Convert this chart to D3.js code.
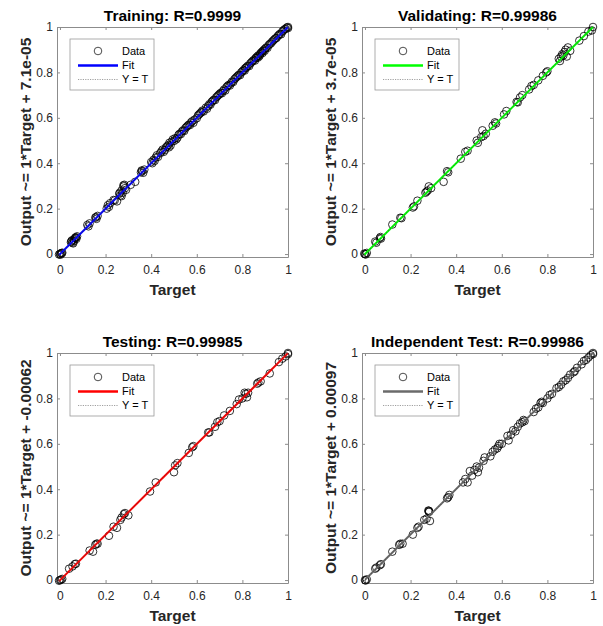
<!DOCTYPE html>
<html>
<head>
<meta charset="utf-8">
<script src="https://cdn.jsdelivr.net/npm/d3@7"></script>
<style>
  body { margin: 0; background: #fff; }
  text { font-family: "Liberation Sans", Arial, Helvetica, sans-serif; }
</style>
</head>
<body>
<svg id="grafica"></svg>
<script>
// Titulos, etiquetas y colores de cada panel
const titulos = ["Training: R=0.9999", "Validating: R=0.99986", "Testing: R=0.99985", "Independent Test: R=0.99986"];
const etiquetasY = [
    "Output ~= 1*Target + 7.1e-05",
    "Output ~= 1*Target + 3.7e-05",
    "Output ~= 1*Target + -0.00062",
    "Output ~= 1*Target + 0.00097"
];
const pendientes = [1, 1, 1, 1];
const interceptos = [7.1e-5, 3.7e-5, -0.00062, 0.00097];
const coloresFit = ["#0000ff", "#00ff00", "#ff0000", "#6b6b6b"];
const ticks = [0, 0.2, 0.4, 0.6, 0.8, 1];

// Datos [target, output]
const datosTraining = [
    [0, 0.001], [0.002, -0.003], [0.005, 0.004], [0.01, 0.006], [-0.004, -0.002], [0.008, 0.003],
    [0.048, 0.052], [0.052, 0.06], [0.055, 0.05], [0.06, 0.064], [0.062, 0.058], [0.066, 0.07], [0.07, 0.074],
    [0.072, 0.067], [0.075, 0.078], [0.058, 0.047], [0.05, 0.056], [0.068, 0.072],
    [0.12, 0.128], [0.125, 0.122], [0.13, 0.135], [0.155, 0.16], [0.16, 0.155], [0.165, 0.168], [0.158, 0.163],
    [0.205, 0.2], [0.21, 0.215], [0.215, 0.208], [0.22, 0.224], [0.235, 0.238], [0.24, 0.236], [0.25, 0.232],
    [0.26, 0.265], [0.265, 0.258], [0.27, 0.28], [0.275, 0.27], [0.28, 0.298], [0.282, 0.305], [0.285, 0.29],
    [0.29, 0.283], [0.27, 0.255], [0.31, 0.305], [0.33, 0.318], [0.278, 0.302], [0.262, 0.27],
    [0.355, 0.36], [0.36, 0.365], [0.365, 0.358], [0.37, 0.372], [0.358, 0.368],
    [0.4, 0.405], [0.41, 0.415], [0.415, 0.41], [0.42, 0.425], [0.43, 0.428], [0.44, 0.445], [0.445, 0.452],
    [0.45, 0.46], [0.46, 0.458], [0.465, 0.47], [0.47, 0.475], [0.475, 0.48], [0.48, 0.49], [0.485, 0.478],
    [0.49, 0.495], [0.5, 0.498], [0.505, 0.51], [0.51, 0.505], [0.52, 0.525], [0.525, 0.53], [0.53, 0.528],
    [0.54, 0.545], [0.545, 0.542], [0.55, 0.555], [0.56, 0.565], [0.565, 0.57], [0.57, 0.568], [0.58, 0.585],
    [0.59, 0.592], [0.6, 0.598], [0.61, 0.615], [0.615, 0.62], [0.62, 0.625], [0.63, 0.628], [0.64, 0.645],
    [0.65, 0.652], [0.66, 0.658], [0.665, 0.67], [0.67, 0.675], [0.68, 0.678], [0.69, 0.695], [0.7, 0.705],
    [0.71, 0.708], [0.72, 0.725], [0.725, 0.72], [0.73, 0.735], [0.74, 0.745], [0.75, 0.752], [0.76, 0.758],
    [0.77, 0.775], [0.775, 0.78], [0.78, 0.785], [0.79, 0.788], [0.8, 0.805], [0.805, 0.81], [0.81, 0.808],
    [0.815, 0.82], [0.82, 0.825], [0.83, 0.828], [0.835, 0.84], [0.84, 0.845], [0.85, 0.855], [0.855, 0.852],
    [0.86, 0.865], [0.865, 0.87], [0.87, 0.875], [0.875, 0.872], [0.88, 0.885], [0.885, 0.89], [0.89, 0.895],
    [0.895, 0.9], [0.9, 0.905], [0.91, 0.908], [0.92, 0.925], [0.93, 0.935], [0.94, 0.945], [0.95, 0.952],
    [0.96, 0.965], [0.97, 0.968], [0.98, 0.985], [0.99, 0.992], [1, 1], [0.995, 0.998], [1, 0.995],
    [0.405, 0.4], [0.425, 0.435], [0.455, 0.45], [0.478, 0.47], [0.495, 0.505], [0.515, 0.512], [0.535, 0.54],
    [0.555, 0.56], [0.575, 0.58], [0.585, 0.578], [0.605, 0.61], [0.625, 0.632], [0.645, 0.64], [0.655, 0.66],
    [0.675, 0.68], [0.685, 0.69], [0.695, 0.7], [0.705, 0.71], [0.715, 0.718], [0.735, 0.74], [0.745, 0.742],
    [0.755, 0.76], [0.765, 0.77], [0.785, 0.79], [0.795, 0.8], [0.812, 0.818], [0.825, 0.83], [0.845, 0.85],
    [0.858, 0.862], [0.868, 0.865], [0.878, 0.88], [0.888, 0.885], [0.898, 0.895], [0.905, 0.91], [0.915, 0.92],
    [0.925, 0.928], [0.935, 0.94], [0.945, 0.95], [0.955, 0.96], [0.965, 0.97], [0.975, 0.98], [0.985, 0.99]
];
const datosValidating = [
    [0, 0], [0.003, -0.002], [0.008, 0.005], [-0.003, 0.002],
    [0.045, 0.055], [0.05, 0.05], [0.065, 0.07], [0.07, 0.068], [0.068, 0.075],
    [0.12, 0.13], [0.155, 0.16], [0.16, 0.158],
    [0.21, 0.205], [0.215, 0.21], [0.23, 0.235],
    [0.265, 0.27], [0.27, 0.275], [0.275, 0.28], [0.28, 0.298], [0.29, 0.29], [0.345, 0.318],
    [0.36, 0.365], [0.365, 0.36],
    [0.42, 0.42], [0.44, 0.45], [0.45, 0.455],
    [0.49, 0.5], [0.495, 0.49], [0.51, 0.515], [0.515, 0.545], [0.52, 0.52], [0.53, 0.53],
    [0.56, 0.565], [0.57, 0.58], [0.575, 0.575],
    [0.61, 0.615], [0.62, 0.63], [0.665, 0.67], [0.67, 0.668], [0.68, 0.69], [0.69, 0.7],
    [0.72, 0.725], [0.73, 0.74], [0.74, 0.745], [0.76, 0.765], [0.78, 0.785], [0.795, 0.8], [0.8, 0.805],
    [0.85, 0.86], [0.855, 0.85], [0.86, 0.87], [0.865, 0.88], [0.87, 0.875], [0.875, 0.89], [0.88, 0.9],
    [0.89, 0.91], [0.9, 0.895], [0.885, 0.87],
    [0.94, 0.94], [0.96, 0.96], [0.98, 0.98], [1, 1], [0.995, 0.985]
];
const datosTesting = [
    [0, 0], [0.005, 0.002], [0.01, 0.005], [-0.004, -0.003],
    [0.04, 0.05], [0.055, 0.06], [0.065, 0.07], [0.07, 0.072],
    [0.13, 0.13], [0.145, 0.125], [0.155, 0.155], [0.16, 0.16], [0.165, 0.16],
    [0.215, 0.195], [0.235, 0.235], [0.25, 0.23], [0.265, 0.265], [0.27, 0.275], [0.28, 0.29], [0.285, 0.295], [0.3, 0.285],
    [0.395, 0.39], [0.42, 0.43],
    [0.5, 0.475], [0.505, 0.505], [0.515, 0.515],
    [0.565, 0.56], [0.58, 0.585], [0.585, 0.59],
    [0.65, 0.65], [0.655, 0.65], [0.68, 0.675], [0.69, 0.695], [0.7, 0.7], [0.72, 0.725], [0.745, 0.745],
    [0.775, 0.775], [0.785, 0.795], [0.8, 0.8], [0.81, 0.825], [0.815, 0.82], [0.82, 0.805], [0.825, 0.825],
    [0.865, 0.865], [0.87, 0.87], [0.88, 0.875], [0.92, 0.91], [0.96, 0.96], [0.975, 0.975], [0.99, 0.985],
    [1, 1], [1, 0.995]
];
const datosIndependiente = [
    [0, 0], [0.003, -0.002], [0.008, 0.003],
    [0.045, 0.05], [0.05, 0.055], [0.065, 0.065], [0.07, 0.07],
    [0.12, 0.125], [0.15, 0.155], [0.155, 0.16], [0.165, 0.16],
    [0.21, 0.2], [0.23, 0.23], [0.235, 0.235], [0.26, 0.265], [0.27, 0.27], [0.28, 0.3], [0.28, 0.305], [0.285, 0.26],
    [0.282, 0.302], [0.278, 0.306],
    [0.36, 0.36], [0.365, 0.365], [0.37, 0.375],
    [0.43, 0.43], [0.44, 0.445], [0.45, 0.43], [0.46, 0.48], [0.47, 0.46], [0.48, 0.485], [0.49, 0.5],
    [0.495, 0.475], [0.5, 0.495], [0.52, 0.525], [0.525, 0.54], [0.55, 0.545], [0.56, 0.565], [0.57, 0.575],
    [0.58, 0.58], [0.585, 0.59], [0.59, 0.6], [0.6, 0.6],
    [0.625, 0.635], [0.63, 0.615], [0.64, 0.64], [0.65, 0.66], [0.66, 0.655], [0.67, 0.675], [0.68, 0.69],
    [0.69, 0.695], [0.695, 0.705], [0.7, 0.7],
    [0.74, 0.74], [0.75, 0.755], [0.76, 0.76], [0.77, 0.78], [0.775, 0.785], [0.78, 0.78], [0.8, 0.8],
    [0.81, 0.815], [0.82, 0.82], [0.84, 0.845], [0.85, 0.85], [0.86, 0.86], [0.87, 0.875], [0.88, 0.88],
    [0.89, 0.89], [0.9, 0.905], [0.915, 0.915], [0.92, 0.92], [0.93, 0.935], [0.95, 0.95], [0.96, 0.965],
    [0.97, 0.97], [0.98, 0.98], [0.99, 0.99], [1, 1], [1, 0.995]
];
const conjuntos = [datosTraining, datosValidating, datosTesting, datosIndependiente];

/**
 * Dibuja un panel de regresion estilo MATLAB
 */
function graficarPanel(svg, izquierda, arriba, i) {
    const ancho = 231, alto = 230;
    const datos = conjuntos[i];

    const x = d3.scaleLinear().domain([-0.013, 1]).range([izquierda, izquierda + ancho]);
    const y = d3.scaleLinear().domain([-0.013, 1]).range([arriba + alto, arriba]);

    const g = svg.append("g");

    // ejes con ticks hacia adentro (caja completa)
    const colorEje = "#8c8c8c";
    const ejeAbajo = g.append("g").attr("transform", `translate(0,${arriba + alto})`)
        .call(d3.axisBottom(x).tickValues(ticks).tickSizeInner(-3).tickSizeOuter(0).tickFormat(d3.format("~g")));
    const ejeArriba = g.append("g").attr("transform", `translate(0,${arriba})`)
        .call(d3.axisTop(x).tickValues(ticks).tickSizeInner(-3).tickSizeOuter(0).tickFormat(""));
    const ejeIzq = g.append("g").attr("transform", `translate(${izquierda},0)`)
        .call(d3.axisLeft(y).tickValues(ticks).tickSizeInner(-3).tickSizeOuter(0).tickFormat(d3.format("~g")));
    const ejeDer = g.append("g").attr("transform", `translate(${izquierda + ancho},0)`)
        .call(d3.axisRight(y).tickValues(ticks).tickSizeInner(-3).tickSizeOuter(0).tickFormat(""));

    [ejeAbajo, ejeArriba, ejeIzq, ejeDer].forEach(e => {
        e.select(".domain").attr("stroke", colorEje);
        e.selectAll(".tick line").attr("stroke", colorEje);
        e.selectAll("text").attr("fill", "#262626").attr("font-size", 12)
            .attr("font-family", "Liberation Sans, Arial, sans-serif");
    });
    ejeAbajo.selectAll("text").attr("dy", null).attr("y", 17);
    ejeIzq.selectAll("text").attr("x", -4);

    // circulos de datos
    g.append("g")
        .selectAll("circle")
        .data(datos)
        .join("circle")
        .attr("cx", d => x(d[0]))
        .attr("cy", d => y(d[1]))
        .attr("r", 3.8)
        .attr("fill", "none")
        .attr("stroke", "#000")
        .attr("stroke-width", 0.8);

    // recta de ajuste
    const tMin = d3.min(datos, d => d[0]), tMax = d3.max(datos, d => d[0]);
    g.append("line")
        .attr("x1", x(tMin)).attr("y1", y(pendientes[i] * tMin + interceptos[i]))
        .attr("x2", x(tMax)).attr("y2", y(pendientes[i] * tMax + interceptos[i]))
        .attr("stroke", coloresFit[i])
        .attr("stroke-width", 2);

    // Y = T punteada
    g.append("line")
        .attr("x1", x(tMin)).attr("y1", y(tMin))
        .attr("x2", x(tMax)).attr("y2", y(tMax))
        .attr("stroke", "#444")
        .attr("stroke-width", 0.7)
        .attr("stroke-dasharray", "1.2,1.6");

    // titulo
    g.append("text")
        .attr("x", izquierda + ancho / 2)
        .attr("y", arriba - 6)
        .attr("text-anchor", "middle")
        .attr("font-weight", "bold")
        .attr("font-size", 15.5)
        .attr("fill", "#000")
        .text(titulos[i]);

    // etiqueta X
    g.append("text")
        .attr("x", izquierda + ancho / 2)
        .attr("y", arriba + alto + 38)
        .attr("text-anchor", "middle")
        .attr("font-weight", "bold")
        .attr("font-size", 15.5)
        .attr("fill", "#262626")
        .text("Target");

    // etiqueta Y
    g.append("text")
        .attr("transform", `translate(${izquierda - 26},${arriba + alto / 2}) rotate(-90)`)
        .attr("text-anchor", "middle")
        .attr("font-weight", "bold")
        .attr("font-size", 15.5)
        .attr("fill", "#262626")
        .text(etiquetasY[i]);

    // leyenda
    const lx = izquierda + 13, ly = arriba + 12;
    const leyenda = g.append("g").attr("transform", `translate(${lx},${ly})`);
    leyenda.append("rect")
        .attr("width", 84).attr("height", 51)
        .attr("fill", "#fff").attr("stroke", "#9a9a9a").attr("stroke-width", 0.8);
    leyenda.append("circle")
        .attr("cx", 28).attr("cy", 12).attr("r", 3.8)
        .attr("fill", "none").attr("stroke", "#000").attr("stroke-width", 0.7);
    leyenda.append("line")
        .attr("x1", 8).attr("x2", 48).attr("y1", 26.5).attr("y2", 26.5)
        .attr("stroke", coloresFit[i]).attr("stroke-width", 2.5);
    leyenda.append("line")
        .attr("x1", 8).attr("x2", 48).attr("y1", 40.5).attr("y2", 40.5)
        .attr("stroke", "#777").attr("stroke-width", 0.7).attr("stroke-dasharray", "1.2,1.2");
    const textos = ["Data", "Fit", "Y = T"];
    leyenda.selectAll("text.ley")
        .data(textos)
        .join("text")
        .attr("class", "ley")
        .attr("x", 52)
        .attr("y", (d, k) => [12, 26.5, 40.5][k])
        .attr("dy", "0.35em")
        .attr("font-size", 11)
        .attr("fill", "#000")
        .text(d => d);
}

const svg = d3.select("#grafica").attr("width", 603).attr("height", 626);
svg.append("rect").attr("width", 603).attr("height", 626).attr("fill", "#fff");

const izquierdas = [57, 362];
const arribas = [27, 353];
for (let i = 0; i < 4; i++) {
    graficarPanel(svg, izquierdas[i % 2], arribas[Math.floor(i / 2)], i);
}
</script>
</body>
</html>
